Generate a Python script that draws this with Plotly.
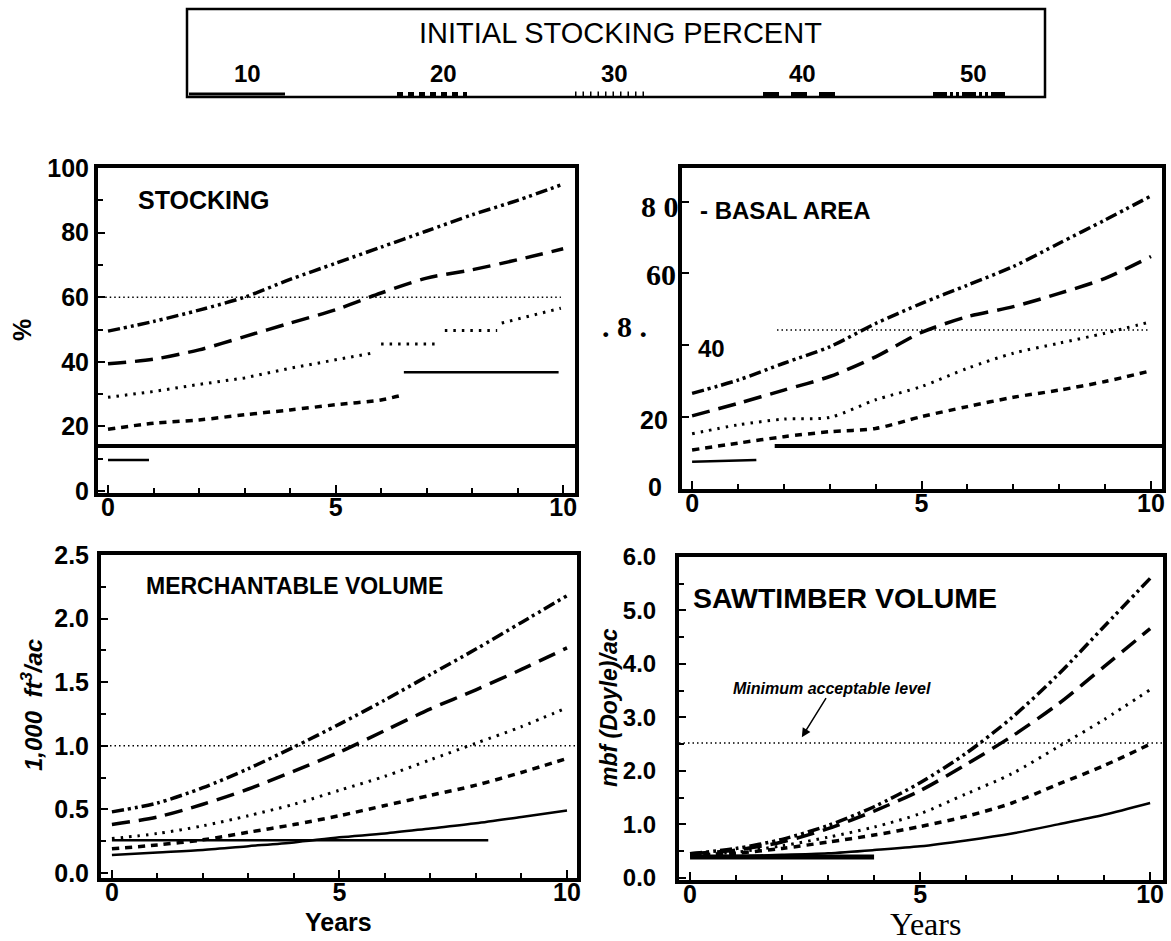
import plotly.graph_objects as go

W, H = 1171, 941

def px(x):
    return x / W

def py(y):
    return 1 - y / H

# ---------------- data ----------------
years = [0, 1, 2, 3, 4, 5, 6, 7, 8, 9, 10]
series_names = ["10", "20", "30", "40", "50"]

# STOCKING (%)
stock_10_x = [0, 0.9, None, 6.5, 9.9]
stock_10_y = [9.6, 9.6, None, 36.8, 36.8]
stock_20_x = [0, 1, 2, 3, 4, 5, 6, 6.5]
stock_20_y = [19.1, 21.0, 22.0, 23.6, 25.1, 26.7, 28.2, 29.8]
stock_30_x = [0, 1, 2, 3, 4, 5, 5.8, None, 6.0, 7.3, None, 7.4, 8.55, None, 8.65, 9.3, 9.95]
stock_30_y = [29.0, 30.8, 33.0, 35.0, 38.0, 40.6, 42.7, None, 45.5, 45.5, None, 49.7, 49.7, None, 52.0, 54.3, 56.6]
stock_40_y = [39.4, 40.8, 43.7, 47.8, 52.0, 56.1, 61.3, 65.9, 68.5, 71.6, 75.0]
stock_50_y = [49.5, 52.5, 56.0, 60.0, 65.5, 70.5, 75.5, 80.5, 85.5, 90.0, 95.0]
stock_ref_x = [-0.16, 9.95]
stock_ref_y = [60, 60]
stock_rule_y = 13.9

# BASAL AREA
basal_10_x = [0, 1.4]
basal_10_y = [7.4, 7.9]
basal_20_y = [10.7, 12.6, 14.4, 15.8, 16.7, 20.0, 22.8, 25.4, 27.4, 29.8, 32.8]
basal_30_y = [15.2, 17.7, 19.3, 19.8, 24.7, 28.4, 33.5, 37.7, 40.5, 43.3, 46.5]
basal_40_y = [20.2, 23.7, 27.4, 31.2, 36.7, 43.5, 47.9, 50.7, 54.4, 58.6, 64.7]
basal_50_y = [26.5, 30.2, 34.9, 39.5, 46.0, 51.6, 56.7, 61.9, 68.4, 74.9, 81.6]
basal_ref_x = [1.85, 9.95]
basal_ref_y = [44.2, 44.2]
basal_rule_x = [1.8, 10.24]
basal_rule_y = 11.8
basal_tick_text = ["8 0", "60", ". 8 .", "40", "20", "0"]

# MERCHANTABLE VOLUME (1,000 ft3/ac)
merch_10_y = [0.14, 0.16, 0.18, 0.21, 0.24, 0.28, 0.31, 0.35, 0.39, 0.44, 0.49]
merch_20_y = [0.19, 0.22, 0.26, 0.32, 0.38, 0.45, 0.53, 0.61, 0.69, 0.79, 0.90]
merch_30_y = [0.27, 0.31, 0.37, 0.45, 0.54, 0.65, 0.76, 0.89, 1.02, 1.15, 1.30]
merch_40_y = [0.38, 0.44, 0.54, 0.66, 0.80, 0.95, 1.12, 1.29, 1.44, 1.60, 1.77]
merch_50_y = [0.48, 0.55, 0.67, 0.82, 0.99, 1.17, 1.36, 1.56, 1.76, 1.97, 2.18]
merch_ref_y = 1.0
merch_bar_x = [0, 8.27]
merch_bar_y = [0.257, 0.257]

# SAWTIMBER VOLUME (mbf (Doyle)/ac)
saw_10_y = [0.40, 0.41, 0.43, 0.46, 0.52, 0.59, 0.70, 0.83, 1.00, 1.18, 1.40]
saw_20_y = [0.42, 0.46, 0.55, 0.67, 0.80, 0.96, 1.15, 1.40, 1.75, 2.10, 2.50]
saw_30_y = [0.42, 0.48, 0.60, 0.76, 0.95, 1.20, 1.57, 1.95, 2.45, 2.96, 3.52]
saw_40_y = [0.45, 0.52, 0.67, 0.92, 1.25, 1.63, 2.12, 2.65, 3.25, 3.95, 4.66]
saw_50_y = [0.45, 0.55, 0.72, 0.98, 1.33, 1.78, 2.33, 3.00, 3.80, 4.70, 5.60]
saw_ref_y = 2.52
saw_bar_x = [0, 4.0]
saw_bar_y = [0.39, 0.39]
saw_arrow_head = (2.43, 2.63)
saw_label_pos = (3.09, 3.55)

# ---------------- styles ----------------
SANS = "Liberation Sans, Arial, sans-serif"
SERIF = "Liberation Serif, Times New Roman, serif"
STY = {
    "10": dict(color="black", width=2.5, dash="solid"),
    "20": dict(color="black", width=3.5, dash="7px,6px"),
    "30": dict(color="black", width=3, dash="2.5px,6px"),
    "40": dict(color="black", width=3.5, dash="18px,9px"),
    "50": dict(color="black", width=3.5, dash="12px,4px,3px,4px,3px,4px"),
}
REF = dict(color="black", width=1.5, dash="1.5px,3px")

fig = go.Figure()

def add(x, y, key, xa, ya, line=None, smooth=True):
    ln = dict(line if line else STY[key])
    if smooth:
        ln["shape"] = "spline"
        ln["smoothing"] = 0.8
    fig.add_trace(go.Scatter(x=x, y=y, mode="lines", xaxis=xa, yaxis=ya,
                             line=ln, showlegend=False,
                             connectgaps=False, hoverinfo="skip"))

# Panel A: stocking
add(stock_10_x, stock_10_y, "10", "x", "y", smooth=False)
add(stock_20_x, stock_20_y, "20", "x", "y")
add(stock_30_x, stock_30_y, "30", "x", "y", smooth=False)
add(years, stock_40_y, "40", "x", "y")
add(years, stock_50_y, "50", "x", "y")
add(stock_ref_x, stock_ref_y, None, "x", "y", REF, smooth=False)

# Panel B: basal area
add(basal_10_x, basal_10_y, "10", "x2", "y2", smooth=False)
add(years, basal_20_y, "20", "x2", "y2")
add(years, basal_30_y, "30", "x2", "y2")
add(years, basal_40_y, "40", "x2", "y2")
add(years, basal_50_y, "50", "x2", "y2")
add(basal_ref_x, basal_ref_y, None, "x2", "y2", REF, smooth=False)
add(basal_rule_x, [basal_rule_y, basal_rule_y], None, "x2", "y2",
    dict(color="black", width=4), smooth=False)

# Panel C: merchantable volume
add(years, merch_10_y, "10", "x3", "y3")
add(years, merch_20_y, "20", "x3", "y3")
add(years, merch_30_y, "30", "x3", "y3")
add(years, merch_40_y, "40", "x3", "y3")
add(years, merch_50_y, "50", "x3", "y3")
add(merch_bar_x, merch_bar_y, None, "x3", "y3", dict(color="black", width=2.5), smooth=False)

# Panel D: sawtimber volume
add(years, saw_10_y, "10", "x4", "y4")
add(years, saw_20_y, "20", "x4", "y4")
add(years, saw_30_y, "30", "x4", "y4")
add(years, saw_40_y, "40", "x4", "y4")
add(years, saw_50_y, "50", "x4", "y4")
add(saw_bar_x, saw_bar_y, None, "x4", "y4", dict(color="black", width=5), smooth=False)

# ---------------- axes ----------------
TICKFONT = dict(family=SANS, size=25, color="black", weight="bold")

def xax(dom, rng, anchor):
    return dict(domain=[px(dom[0]), px(dom[1])], range=rng, anchor=anchor,
                automargin=False,
                showline=True, linecolor="black", linewidth=4, mirror=True,
                showgrid=False, zeroline=False, ticks="inside", ticklen=8,
                tickwidth=2, tickcolor="black", tickvals=[0, 5, 10],
                tickfont=TICKFONT, ticklabelstandoff=-11,
                minor=dict(dtick=1, tick0=0, ticks="inside", ticklen=5,
                           tickwidth=2, tickcolor="black", showgrid=False))

def yax(dom, rng, anchor, dtick, mdtick, fmt=None, show=True, standoff=6, size=25):
    d = dict(domain=[py(dom[1]), py(dom[0])], range=rng, anchor=anchor,
             automargin=False,
             showline=True, linecolor="black", linewidth=4, mirror=True,
             showgrid=False, zeroline=False, ticks="inside", ticklen=7,
             tickwidth=2, tickcolor="black", dtick=dtick, tick0=0,
             tickfont=dict(TICKFONT, size=size), showticklabels=show,
             ticklabelstandoff=standoff,
             minor=dict(dtick=mdtick, tick0=0, ticks="inside", ticklen=5,
                        tickwidth=2, tickcolor="black", showgrid=False))
    if fmt:
        d["tickformat"] = fmt
    return d

fig.update_layout(
    template="none",
    width=W, height=H, margin=dict(l=0, r=0, t=0, b=0, pad=0),
    paper_bgcolor="white", plot_bgcolor="white", showlegend=False,
    xaxis=xax((98, 575), [-0.22, 10.26], "y"),
    yaxis=yax((168, 493), [-0.62, 100.0], "x", 20, 10, standoff=0),
    xaxis2=xax((682, 1162), [-0.22, 10.24], "y2"),
    yaxis2=yax((168, 489), [-0.2, 89.4], "x2", 20, 20, show=False),
    xaxis3=xax((101, 577), [-0.24, 10.22], "y3"),
    yaxis3=yax((555, 878), [-0.04, 2.5], "x3", 0.5, 0.25, fmt=".1f", standoff=3),
    xaxis4=xax((679, 1163), [-0.24, 10.28], "y4"),
    yaxis4=yax((557, 880), [-0.04, 6.0], "x4", 1.0, 0.5, fmt=".1f", standoff=14, size=24),
)

shapes = []
shapes.append(dict(type="line", xref="x domain", yref="y", x0=0, x1=1,
                   y0=stock_rule_y, y1=stock_rule_y, line=dict(color="black", width=4)))
shapes.append(dict(type="line", xref="x3 domain", yref="y3", x0=0, x1=1,
                   y0=merch_ref_y, y1=merch_ref_y, line=REF))
shapes.append(dict(type="line", xref="x4 domain", yref="y4", x0=0, x1=1,
                   y0=saw_ref_y, y1=saw_ref_y, line=REF))
# legend box
shapes.append(dict(type="rect", xref="paper", yref="paper", x0=px(187), x1=px(1045),
                   y0=py(97), y1=py(9), line=dict(color="black", width=2.5)))
legend_centers = [247, 443, 614, 802, 973]
legend_samples = [(189, 285), (397, 467), (575, 645), (763, 835), (933, 1007)]
LEG_STY = {
    "10": dict(color="black", width=3, dash="solid"),
    "20": dict(color="black", width=4, dash="6px,5px"),
    "30": dict(color="black", width=5, dash="1.5px,6px"),
    "40": dict(color="black", width=4, dash="16px,12px"),
    "50": dict(color="black", width=4, dash="14px,3px,3px,3px,3px,3px"),
}
for name, (a, b) in zip(series_names, legend_samples):
    shapes.append(dict(type="line", xref="paper", yref="paper", x0=px(a), x1=px(b),
                       y0=py(94), y1=py(94), line=LEG_STY[name]))
fig.update_layout(shapes=shapes)

ann = []

def note(text, x, y, size, family=SANS, bold=True, xanchor="center", angle=0):
    f = dict(family=family, size=size, color="black")
    if bold:
        f["weight"] = "bold"
    ann.append(dict(text=text, x=px(x), y=py(y), xref="paper", yref="paper",
                    xanchor=xanchor, yanchor="middle", showarrow=False,
                    textangle=angle, font=f))

note("INITIAL STOCKING PERCENT", 620, 33, 29, bold=False)
for name, c in zip(series_names, legend_centers):
    note(name, c, 74, 24)

note("STOCKING", 136, 200, 25, xanchor="left")
note("- BASAL AREA", 698, 210, 24, xanchor="left")
note("MERCHANTABLE VOLUME", 144, 586, 23, xanchor="left")
note("SAWTIMBER VOLUME", 691, 598, 28.5, xanchor="left")

# basal-area tick labels as printed
basal_tick_pos = [(660, 207, SERIF, 30), (661, 274, SERIF, 30), (624, 326, SERIF, 30),
                  (711, 348, SANS, 24), (654, 420, SANS, 25), (655, 487, SANS, 25)]
for t, (x, y, fam, sz) in zip(basal_tick_text, basal_tick_pos):
    note(t, x, y, sz, family=fam)

# axis titles
note("%", 22, 330, 25, angle=-90)
note("<i>1,000  ft<sup>3</sup>/ac</i>", 32, 705, 24, angle=-90)
note("<i>mbf (Doyle)/ac</i>", 609, 708, 23, angle=-90)
note("Years", 338, 922, 25)
note("Years", 926, 924, 32, family=SERIF, bold=False)

# minimum acceptable level callout (arrow from label to the line)
ann.append(dict(text="<b><i>Minimum acceptable level</i></b>",
                x=saw_arrow_head[0], y=saw_arrow_head[1],
                ax=saw_label_pos[0], ay=saw_label_pos[1],
                xref="x4", yref="y4", axref="x4", ayref="y4",
                xanchor="center", yanchor="middle",
                showarrow=True, arrowhead=2, arrowsize=1.2, arrowwidth=1.5, arrowcolor="black",
                font=dict(family=SANS, size=16, color="black")))
fig.update_layout(annotations=ann)

fig.write_html("out.html", config={"displayModeBar": False},
               post_script="document.body.style.margin='0';")
